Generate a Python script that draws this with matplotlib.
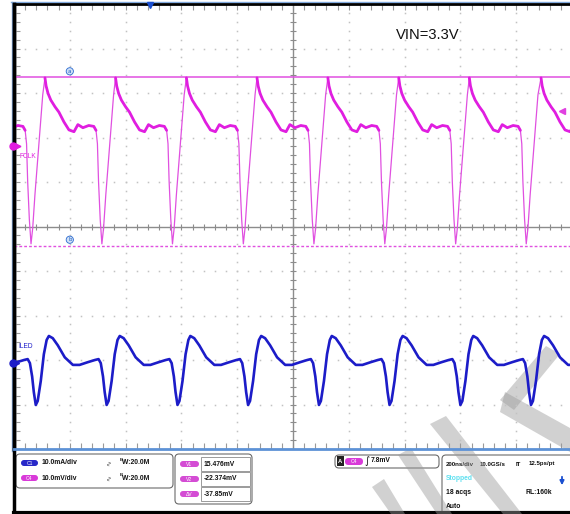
import numpy as np
import matplotlib
matplotlib.use('Agg')
import matplotlib.pyplot as plt
from matplotlib.patches import FancyBboxPatch, Rectangle, Polygon

# ─── Réglages de l'oscilloscope ───────────────────────────────────────────────
time_per_div = 200        # ns/div
fclk_scale = 10.0         # mV/div (C4)
iled_scale = 10.0         # mA/div (C1)
fclk_ground = 1.81        # position du zéro C4 (div)
iled_ground = -3.07       # position du zéro C1 (div)
cursor_v1 = 15.476        # mV
cursor_v2 = -22.374       # mV
cursor_dv = -37.85        # mV
trig_time = -514          # ns
trig_level = 7.8          # mV

# ─── Traces lues à l'écran ────────────────────────────────────────────────────
# FCLK : un cycle, temps après chaque crête (ns) et niveau (mV)
fclk_dt = [0, 4, 11, 21, 36, 50, 68, 86, 104, 118, 136, 157, 175, 183,
           188, 192, 198, 204, 210, 218, 226, 236, 246, 254]
fclk_mv = [15.3, 13.5, 11.8, 10.3, 8.8, 7.6, 5.4, 3.6, 3.2, 4.8, 4.1, 4.6, 4.4, 3.5,
           0.5, -8.0, -16.5, -22.0, -18.5, -11.0, -4.5, 3.5, 11.5, 15.3]
fclk_slow = 14            # partie lente (bruitée) du cycle
fclk_peaks = [-1143, -889, -636, -382, -129, 125, 379, 632, 889, 1143]

# ILED : un cycle, temps après chaque crête (ns) et courant (mA)
iled_dt = [0, 14, 32, 57, 86, 110, 139, 165, 178, 186, 194, 200, 207, 214,
           225, 236, 246, 254]
iled_ma = [6.1, 5.6, 4.0, 1.3, -0.4, -0.4, 0.2, 0.7, 0.9, 0.0, -3.0, -6.5, -9.4, -8.5,
           -4.0, 2.0, 5.2, 6.1]
iled_peaks = [-1129, -875, -621, -368, -114, 139, 393, 646, 900, 1154]

PINK = "#e01ee0"
BLUE = "#1c1cc8"
GRID = "#c2c2c2"
CENTER = "#8c8c8c"
PANEL_FONT = ["Liberation Sans Narrow", "Liberation Sans", "DejaVu Sans"]

W, H = 570, 514
fig = plt.figure(figsize=(W / 100, H / 100), dpi=100, facecolor="white")

# fond en pixels (cadre, panneau du bas, filigrane)
bg = fig.add_axes([0, 0, 1, 1], zorder=0)
bg.set_xlim(0, W)
bg.set_ylim(H, 0)
bg.axis("off")

# ─── Graticule ────────────────────────────────────────────────────────────────
ax = fig.add_axes([14 / W, 1 - 449 / H, 558 / W, 445 / H], zorder=2)
ax.set_facecolor("none")
ax.set_xlim(-5 * time_per_div, 5 * time_per_div)
ax.set_ylim(-5, 5)

major_x = np.arange(-4, 5) * time_per_div
minor_x = np.arange(-25, 26) * time_per_div / 5
major_y = np.arange(-4, 5)
minor_y = np.arange(-25, 26) / 5

for gx in major_x:
    if gx != 0:
        ax.plot(np.full(minor_y.size, gx), minor_y, ls="none", marker="s",
                ms=1.1, mew=0, color=GRID)
for gy in major_y:
    if gy != 0:
        ax.plot(minor_x, np.full(minor_x.size, gy), ls="none", marker="s",
                ms=1.1, mew=0, color=GRID)

ax.axhline(0, color=CENTER, lw=1)
ax.axvline(0, color=CENTER, lw=1)
ax.plot(minor_x, np.zeros(minor_x.size), ls="none", marker="|", ms=5, mew=0.8, color=CENTER)
ax.plot(np.zeros(minor_y.size), minor_y, ls="none", marker="_", ms=5, mew=0.8, color=CENTER)

ax.set_xticks(minor_x)
ax.set_yticks(minor_y)
ax.tick_params(direction="in", length=4, width=0.8, color="#9a9a9a",
               top=True, bottom=True, left=True, right=False,
               labelbottom=False, labelleft=False)
ax.spines["left"].set_color("black")
ax.spines["left"].set_linewidth(2.5)
ax.spines["top"].set_color("black")
ax.spines["top"].set_linewidth(2)
ax.spines["bottom"].set_color("#5d92d6")
ax.spines["bottom"].set_linewidth(2)
ax.spines["right"].set_visible(False)

# ─── Curseurs ─────────────────────────────────────────────────────────────────
y_v1 = fclk_ground + cursor_v1 / fclk_scale
y_v2 = fclk_ground + cursor_v2 / fclk_scale
ax.axhline(y_v1, color="#e050e0", lw=1.1)
ax.axhline(y_v2, color="#e050e0", lw=1.0, ls=(0, (2, 1.5)))
for lab, yc in [("a", y_v1), ("b", y_v2)]:
    ax.text(-800, yc + 0.13, lab, fontsize=4, color="#1f5fc0", ha="center", va="center",
            bbox=dict(boxstyle="circle,pad=0.2", fc="#cfe0f7", ec="#2a6ad0", lw=0.6))

# ─── Traces ───────────────────────────────────────────────────────────────────
fclk_t, fclk_v = [], []
for p in fclk_peaks:
    fclk_t += [p + d for d in fclk_dt[:-1]]
    fclk_v += fclk_mv[:-1]
fclk_t = np.array(fclk_t)
fclk_y = fclk_ground + np.array(fclk_v) / fclk_scale
ax.plot(fclk_t, fclk_y, color="#e050e0", lw=0.9)
for p in fclk_peaks:
    ax.plot([p + d for d in fclk_dt[:fclk_slow]],
            fclk_ground + np.array(fclk_mv[:fclk_slow]) / fclk_scale,
            color=PINK, lw=2.0, solid_capstyle="round")

iled_t, iled_v = [], []
for p in iled_peaks:
    iled_t += [p + d for d in iled_dt[:-1]]
    iled_v += iled_ma[:-1]
iled_y = iled_ground + np.array(iled_v) / iled_scale
ax.plot(iled_t, iled_y, color=BLUE, lw=1.9, solid_joinstyle="round")

# marqueurs de masse, déclenchement
ax.plot(-1005, fclk_ground, marker="o", ms=5, color=PINK, clip_on=False, zorder=6)
ax.plot(-985, fclk_ground, marker=">", ms=3.5, color=PINK, clip_on=False, zorder=6)
ax.plot(-1003, iled_ground, marker="o", ms=5, color=BLUE, clip_on=False, zorder=6)
ax.plot(-988, iled_ground, marker=">", ms=3, color=BLUE, clip_on=False, zorder=6)
ax.plot(trig_time, 4.97, marker="v", ms=5, color="#1a4fd0", clip_on=False, zorder=6)
ax.plot(964, fclk_ground + trig_level / fclk_scale, marker="<", ms=4.5, color="#e040e0",
        clip_on=False, zorder=6)

# ─── Textes sur l'écran ───────────────────────────────────────────────────────
bg.text(428, 35, "VIN=3.3V", ha="center", va="center", fontsize=10.6,
        family=["Liberation Sans Narrow", "Liberation Sans"], color="#111111")
bg.text(20, 156, "FCLK", ha="left", va="center", fontsize=4.8, color=PINK,
        family=PANEL_FONT)
bg.text(18, 347, "ILED", ha="left", va="center", fontsize=4.8, color=BLUE,
        family=PANEL_FONT)

# ─── Cadre ────────────────────────────────────────────────────────────────────
bg.plot([11.5, 11.5], [2, 451], color="#7fa8dc", lw=1)
bg.plot([11, W], [1.5, 1.5], color="#7fa8dc", lw=1)
bg.plot([14, 14], [4, H], color="black", lw=2.5)
bg.plot([14, W], [512.5, 512.5], color="black", lw=3)


def box(x0, y0, x1, y1, r=4, ec="#6a6a6a", fc="white", lw=0.8):
    bg.add_patch(FancyBboxPatch((x0, y0), x1 - x0, y1 - y0,
                                boxstyle=f"round,pad=0,rounding_size={r}",
                                ec=ec, fc=fc, lw=lw))


def pill(x0, y0, x1, y1, color, label):
    h = y1 - y0
    bg.add_patch(FancyBboxPatch((x0, y0), x1 - x0, h,
                                boxstyle=f"round,pad=0,rounding_size={h / 2}",
                                ec="none", fc=color))
    bg.text((x0 + x1) / 2, (y0 + y1) / 2 + 0.3, label, ha="center", va="center",
            fontsize=3.6, color="white", family=PANEL_FONT)


def ptext(x, y, s, color="#111111", size=4.9, **kw):
    bg.text(x, y, s, ha="left", va="center", fontsize=size, color=color,
            weight="bold", family=PANEL_FONT, **kw)


# voies
box(16, 454, 173, 488)
channels = [("C1", "#2828c8", "10.0mA/div", 463), ("C4", "#d93ad9", "10.0mV/div", 478)]
for name, col, scale, yr in channels:
    pill(21, yr - 3, 38, yr + 3, col, name)
    ptext(42, yr, scale)
    bg.text(108, yr, "∿", rotation=90, fontsize=5, color="#555555", ha="center", va="center")
    bg.text(120, yr - 3, "B", fontsize=3.2, color="#222222", ha="left", va="center",
            weight="bold", family=PANEL_FONT)
    ptext(122, yr, "W:20.0M")

# curseurs
box(175, 454, 252, 504)
cursor_rows = [("V1", f"{cursor_v1:.3f}mV", 464), ("V2", f"{cursor_v2:.3f}mV", 479),
               ("ΔV", f"{cursor_dv:.2f}mV", 494)]
for name, val, yr in cursor_rows:
    pill(180, yr - 3, 199, yr + 3, "#d44cd4", name)
    bg.add_patch(Rectangle((201, yr - 7), 49, 14, fc="white", ec="#8a8a8a", lw=0.6))
    ptext(204, yr, val)

# déclenchement
box(335, 455, 439, 468)
bg.add_patch(Rectangle((337, 456), 6.5, 10, fc="#222222", ec="none"))
bg.text(340.2, 461.3, "A", ha="center", va="center", fontsize=4.2, color="white",
        weight="bold", family=PANEL_FONT)
pill(345, 458, 363, 465, "#d93ad9", "C4")
bg.text(367.5, 461.5, "∫", ha="center", va="center", fontsize=7, color="#111111")
ptext(371, 461, f"{trig_level}mV")

# acquisition
box(442, 455, 600, 540)
ptext(446, 464, "200ns/div", size=4.4)
ptext(480, 464, "10.0GS/s", size=4.4)
ptext(516, 464, "IT", size=4.4)
ptext(529, 464, "12.5ps/pt", size=4.4)
ptext(446, 478, "Stopped", color="#5ee0f0")
ptext(446, 493, "18 acqs")
ptext(525, 493, "RL:160k")
ptext(446, 507, "Auto")
bg.annotate("", xy=(562, 488), xytext=(562, 474),
            arrowprops=dict(arrowstyle="-|>", color="#1a4fd0", lw=1.3, mutation_scale=6))

# ─── Filigrane ────────────────────────────────────────────────────────────────
watermark = [
    [(372, 487), (384, 479), (405, 514), (391, 514)],
    [(398, 455), (411, 448), (452, 514), (437, 514)],
    [(430, 424), (446, 416), (522, 514), (503, 514)],
    [(500, 400), (546, 346), (560, 354), (514, 410)],
    [(505, 392), (570, 428), (570, 452), (500, 412)],
]
for poly in watermark:
    bg.add_patch(Polygon(poly, closed=True, fc="#9a9a9a", ec="none", alpha=0.45, zorder=5))

plt.savefig("out.png", dpi=100)
plt.close()
